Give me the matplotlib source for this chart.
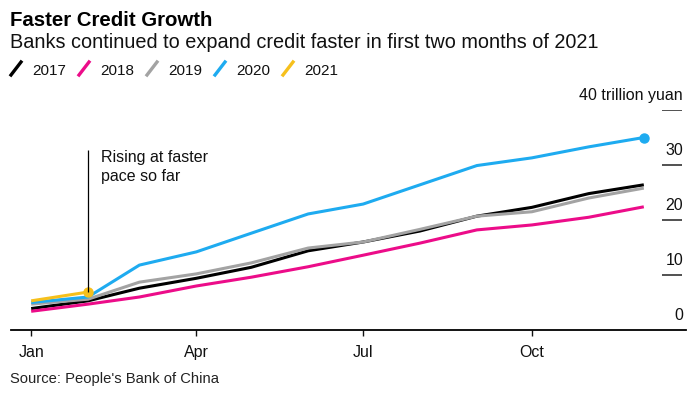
import matplotlib
matplotlib.use('Agg')
import matplotlib.pyplot as plt
import matplotlib.dates as mdates
import matplotlib.transforms as mtransforms
from matplotlib.lines import Line2D
import pandas as pd

plt.rcParams['font.family'] = ['Liberation Sans', 'DejaVu Sans']

# cumulative new credit, trillion yuan (month start positions)
months = pd.date_range('2021-01-01', periods=12, freq='MS')
y2017 = [3.9, 5.3, 7.6, 9.4, 11.4, 14.4, 16.0, 18.0, 20.7, 22.3, 24.8, 26.4]
y2018 = [3.4, 4.7, 6.0, 8.0, 9.6, 11.5, 13.6, 15.8, 18.2, 19.1, 20.5, 22.4]
y2019 = [4.7, 5.6, 8.7, 10.2, 12.2, 14.9, 16.0, 18.3, 20.7, 21.5, 24.0, 25.8]
y2020 = [5.0, 6.0, 11.8, 14.2, 17.6, 21.1, 22.9, 26.4, 29.9, 31.3, 33.3, 35.0]
y2021 = [5.3, 6.9]

years = ['2017', '2018', '2019', '2020', '2021']
colors = ['#000000', '#ec0c89', '#a3a3a3', '#1eabf0', '#f6c01c']
yticks = [0, 10, 20, 30, 40]
xtick_months = ['2021-01-01', '2021-04-01', '2021-07-01', '2021-10-01']

W, H = 699, 395
fig = plt.figure(figsize=(W / 100, H / 100), dpi=100)

# axes: x line from 11px to 686px, y=0 at 330px, y=40 at 110px
ax = fig.add_axes([11 / W, 1 - 330 / H, 675 / W, 220 / H])

series = [y2017, y2018, y2019, y2020, y2021]
for vals, col in zip(series, colors):
    ax.plot(months[:len(vals)], vals, color=col, lw=2.2, solid_capstyle='butt',
            solid_joinstyle='round')

# end dots
ax.plot(months[len(y2020) - 1], y2020[-1], 'o', color=colors[3], ms=6.5, clip_on=False)
ax.plot(months[len(y2021) - 1], y2021[-1], 'o', color=colors[4], ms=6.5, clip_on=False)

ax.set_xlim(pd.Timestamp('2020-12-21'), pd.Timestamp('2021-12-24'))
ax.set_ylim(0, 40)

for s in ['top', 'right', 'left']:
    ax.spines[s].set_visible(False)
ax.spines['bottom'].set_linewidth(1.3)

ax.set_xticks([pd.Timestamp(m) for m in xtick_months])
ax.xaxis.set_major_formatter(mdates.DateFormatter('%b'))
ax.tick_params(axis='x', length=4, width=1, pad=7, labelsize=11.5, colors='#111111')
ax.set_yticks([])

# right-side value labels with short dashes below them
ytrans = ax.get_yaxis_transform()
ax.hlines(yticks[1:], 0.9644, 0.9941, transform=ytrans, color='#222222', lw=1.1)
lab_trans = mtransforms.offset_copy(ytrans, fig=fig, x=0, y=10, units='dots')
for v in yticks:
    txt = f'{v} trillion yuan' if v == yticks[-1] else f'{v}'
    ax.text(0.9956, v, txt, transform=lab_trans, ha='right', va='baseline',
            fontsize=11.5, color='#111111')

# annotation
ax.vlines(months[1], y2021[-1], 32.7, color='#000000', lw=0.9)
ax.annotate('Rising at faster\npace so far', xy=(months[1], 32.7),
            xytext=(9, 0), textcoords='offset points', ha='left', va='top',
            fontsize=11.5, linespacing=1.3, color='#111111')

# titles
fig.text(10 / W, 1 - 26 / H, 'Faster Credit Growth', fontsize=14.7,
         fontweight='bold', va='baseline', ha='left')
fig.text(10 / W, 1 - 48 / H,
         'Banks continued to expand credit faster in first two months of 2021',
         fontsize=14.3, va='baseline', ha='left', color='#111111')

# legend with slanted line keys
for i, (yr, col) in enumerate(zip(years, colors)):
    x0 = 11 + 68 * i
    fig.add_artist(Line2D([x0 / W, (x0 + 10) / W], [1 - 75 / H, 1 - 62 / H],
                          color=col, lw=2.4, transform=fig.transFigure))
    fig.text((x0 + 21) / W, 1 - 75 / H, yr, fontsize=11, va='baseline',
             ha='left', color='#111111')

fig.text(10 / W, 1 - 383 / H, "Source: People's Bank of China", fontsize=10.6,
         va='baseline', ha='left', color='#222222')

fig.savefig('out.png', dpi=100)
plt.close(fig)
